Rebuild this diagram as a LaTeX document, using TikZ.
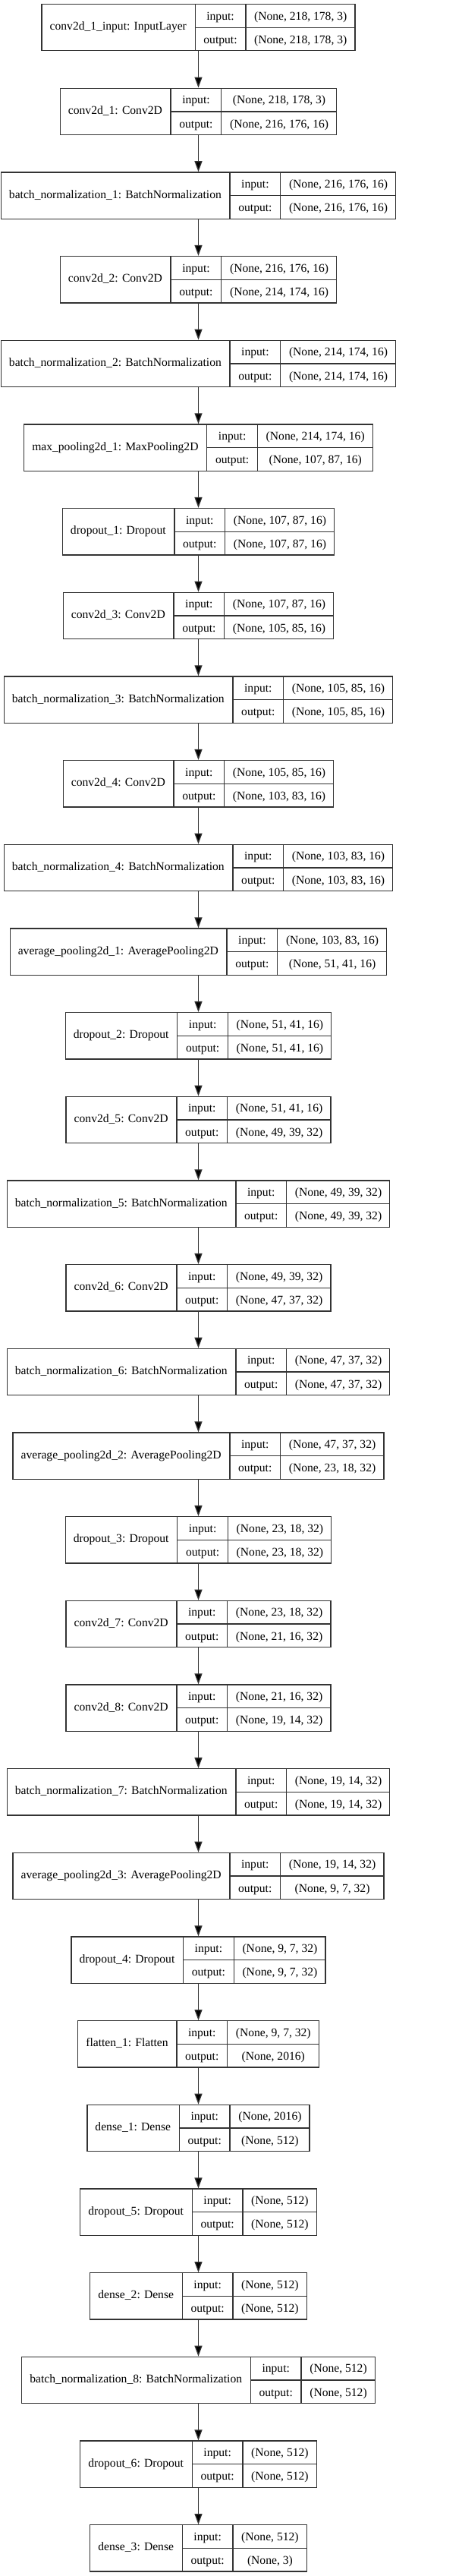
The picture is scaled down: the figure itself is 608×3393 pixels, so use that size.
\documentclass[tikz,border=0pt]{standalone}
\usepackage{fontspec}
\usepackage{colortbl}
\setmainfont{Liberation Serif}
\usetikzlibrary{arrows.meta,positioning}

\setlength{\tabcolsep}{10.6pt}
\setlength{\arrayrulewidth}{1.3pt}
\arrayrulecolor{black!80}
\renewcommand{\arraystretch}{0}
\newcommand{\rowstrut}{\rule[-9.5pt]{0pt}{30pt}}
% one keras layer: name | input:/output: | shapes
\newcommand{\fields}[3]{%
  \begin{tabular}{c|@{}c@{}}
    #1 &
    \begin{tabular}{c|c}
      \rowstrut input: & #2\\ \hline
      \rowstrut output: & #3
    \end{tabular}
  \end{tabular}}

\begin{document}
\begin{tikzpicture}[x=1pt,y=1pt,node distance=110.67pt,on grid,
	rec/.style={draw=black!80,line width=1.3pt,inner sep=0pt,fill=white,
		font=\fontsize{15.6}{18}\selectfont},
	link/.style={-{Triangle[length=14pt,width=10pt]},draw=black!80,line width=1.3pt}]
	\useasboundingbox[fill=white] (0,0) rectangle (608,-3393);
	\node[rec] (input) at (261.5,-36.2) {\fields{conv2d\_1\_input: InputLayer}{(None, 218, 178, 3)}{(None, 218, 178, 3)}};
	\node[rec,below=of input] (conv1) {\fields{conv2d\_1: Conv2D}{(None, 218, 178, 3)}{(None, 216, 176, 16)}};
	\node[rec,below=of conv1] (bn1) {\fields{batch\_normalization\_1: BatchNormalization}{(None, 216, 176, 16)}{(None, 216, 176, 16)}};
	\node[rec,below=of bn1] (conv2) {\fields{conv2d\_2: Conv2D}{(None, 216, 176, 16)}{(None, 214, 174, 16)}};
	\node[rec,below=of conv2] (bn2) {\fields{batch\_normalization\_2: BatchNormalization}{(None, 214, 174, 16)}{(None, 214, 174, 16)}};
	\node[rec,below=of bn2] (mpool1) {\fields{max\_pooling2d\_1: MaxPooling2D}{(None, 214, 174, 16)}{(None, 107, 87, 16)}};
	\node[rec,below=of mpool1] (drop1) {\fields{dropout\_1: Dropout}{(None, 107, 87, 16)}{(None, 107, 87, 16)}};
	\node[rec,below=of drop1] (conv3) {\fields{conv2d\_3: Conv2D}{(None, 107, 87, 16)}{(None, 105, 85, 16)}};
	\node[rec,below=of conv3] (bn3) {\fields{batch\_normalization\_3: BatchNormalization}{(None, 105, 85, 16)}{(None, 105, 85, 16)}};
	\node[rec,below=of bn3] (conv4) {\fields{conv2d\_4: Conv2D}{(None, 105, 85, 16)}{(None, 103, 83, 16)}};
	\node[rec,below=of conv4] (bn4) {\fields{batch\_normalization\_4: BatchNormalization}{(None, 103, 83, 16)}{(None, 103, 83, 16)}};
	\node[rec,below=of bn4] (apool1) {\fields{average\_pooling2d\_1: AveragePooling2D}{(None, 103, 83, 16)}{(None, 51, 41, 16)}};
	\node[rec,below=of apool1] (drop2) {\fields{dropout\_2: Dropout}{(None, 51, 41, 16)}{(None, 51, 41, 16)}};
	\node[rec,below=of drop2] (conv5) {\fields{conv2d\_5: Conv2D}{(None, 51, 41, 16)}{(None, 49, 39, 32)}};
	\node[rec,below=of conv5] (bn5) {\fields{batch\_normalization\_5: BatchNormalization}{(None, 49, 39, 32)}{(None, 49, 39, 32)}};
	\node[rec,below=of bn5] (conv6) {\fields{conv2d\_6: Conv2D}{(None, 49, 39, 32)}{(None, 47, 37, 32)}};
	\node[rec,below=of conv6] (bn6) {\fields{batch\_normalization\_6: BatchNormalization}{(None, 47, 37, 32)}{(None, 47, 37, 32)}};
	\node[rec,below=of bn6] (apool2) {\fields{average\_pooling2d\_2: AveragePooling2D}{(None, 47, 37, 32)}{(None, 23, 18, 32)}};
	\node[rec,below=of apool2] (drop3) {\fields{dropout\_3: Dropout}{(None, 23, 18, 32)}{(None, 23, 18, 32)}};
	\node[rec,below=of drop3] (conv7) {\fields{conv2d\_7: Conv2D}{(None, 23, 18, 32)}{(None, 21, 16, 32)}};
	\node[rec,below=of conv7] (conv8) {\fields{conv2d\_8: Conv2D}{(None, 21, 16, 32)}{(None, 19, 14, 32)}};
	\node[rec,below=of conv8] (bn7) {\fields{batch\_normalization\_7: BatchNormalization}{(None, 19, 14, 32)}{(None, 19, 14, 32)}};
	\node[rec,below=of bn7] (apool3) {\fields{average\_pooling2d\_3: AveragePooling2D}{(None, 19, 14, 32)}{(None, 9, 7, 32)}};
	\node[rec,below=of apool3] (drop4) {\fields{dropout\_4: Dropout}{(None, 9, 7, 32)}{(None, 9, 7, 32)}};
	\node[rec,below=of drop4] (flat1) {\fields{flatten\_1: Flatten}{(None, 9, 7, 32)}{(None, 2016)}};
	\node[rec,below=of flat1] (dense1) {\fields{dense\_1: Dense}{(None, 2016)}{(None, 512)}};
	\node[rec,below=of dense1] (drop5) {\fields{dropout\_5: Dropout}{(None, 512)}{(None, 512)}};
	\node[rec,below=of drop5] (dense2) {\fields{dense\_2: Dense}{(None, 512)}{(None, 512)}};
	\node[rec,below=of dense2] (bn8) {\fields{batch\_normalization\_8: BatchNormalization}{(None, 512)}{(None, 512)}};
	\node[rec,below=of bn8] (drop6) {\fields{dropout\_6: Dropout}{(None, 512)}{(None, 512)}};
	\node[rec,below=of drop6] (dense3) {\fields{dense\_3: Dense}{(None, 512)}{(None, 3)}};
	\path[link] (input) edge (conv1)
		(conv1) edge (bn1)
		(bn1) edge (conv2)
		(conv2) edge (bn2)
		(bn2) edge (mpool1)
		(mpool1) edge (drop1)
		(drop1) edge (conv3)
		(conv3) edge (bn3)
		(bn3) edge (conv4)
		(conv4) edge (bn4)
		(bn4) edge (apool1)
		(apool1) edge (drop2)
		(drop2) edge (conv5)
		(conv5) edge (bn5)
		(bn5) edge (conv6)
		(conv6) edge (bn6)
		(bn6) edge (apool2)
		(apool2) edge (drop3)
		(drop3) edge (conv7)
		(conv7) edge (conv8)
		(conv8) edge (bn7)
		(bn7) edge (apool3)
		(apool3) edge (drop4)
		(drop4) edge (flat1)
		(flat1) edge (dense1)
		(dense1) edge (drop5)
		(drop5) edge (dense2)
		(dense2) edge (bn8)
		(bn8) edge (drop6)
		(drop6) edge (dense3);
\end{tikzpicture}
\end{document}
